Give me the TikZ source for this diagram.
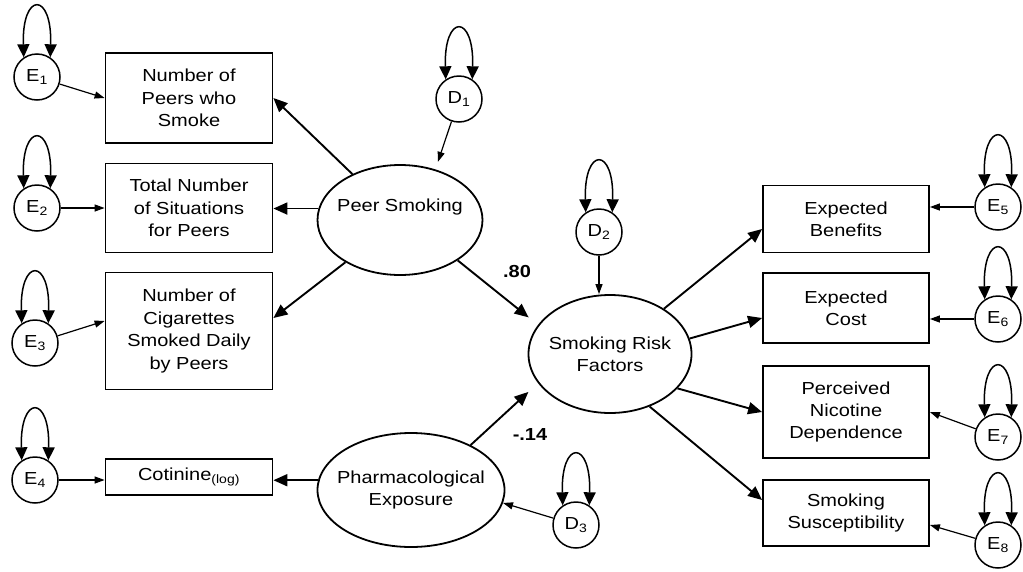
\documentclass[tikz,border=0pt]{standalone}
\usepackage{fontspec}
\setmainfont{Liberation Sans}[FakeStretch=1.15]
\usetikzlibrary{arrows.meta,shapes.geometric,calc}
\begin{document}
\begin{tikzpicture}[x=1pt,y=-1pt,
 font=\fontsize{17.4}{22.4}\selectfont,
 obs/.style={draw,line width=1.8pt,rectangle,minimum width=167pt,align=center,inner sep=0pt},
 lat/.style={draw,line width=1.8pt,ellipse,inner sep=0pt},
 err/.style={draw,line width=1.5pt,circle,minimum size=46pt,inner sep=0pt},
 thk/.style={line width=1.9pt,-{Triangle[length=14pt,width=12pt]}},
 thn/.style={line width=1.2pt,-{Triangle[length=10pt,width=7pt]}},
 var/.style={line width=1.5pt,{Triangle[length=13pt,width=12pt]}-{Triangle[length=13pt,width=12pt]}},
 coef/.style={font=\fontsize{17.4}{20}\selectfont\bfseries}
]
\useasboundingbox (0,0) rectangle (1023,571);
\newcommand{\selfloop}[1]{\draw[var] (#1.124) .. controls +(-2,-66) and +(2,-66) .. (#1.56);}

% left observed
\node[obs,minimum height=90pt]  (B1) at (189,98)  {Number of\\Peers who\\Smoke};
\node[obs,minimum height=89pt]  (B2) at (189,208) {Total Number\\of Situations\\for Peers};
\node[obs,minimum height=117pt] (B3) at (189,331) {Number of\\Cigarettes\\Smoked Daily\\by Peers};
\node[obs,minimum height=36pt]  (B4) at (189,477) {Cotinine\textsubscript{(log)}};
% right observed
\node[obs,minimum width=166pt,minimum height=67pt] (B5) at (846,219) {Expected\\Benefits};
\node[obs,minimum width=166pt,minimum height=70pt] (B6) at (846,308) {Expected\\Cost};
\node[obs,minimum width=166pt,minimum height=92pt] (B7) at (846,412) {Perceived\\Nicotine\\Dependence};
\node[obs,minimum width=166pt,minimum height=66pt] (B8) at (846,513) {Smoking\\Susceptibility};

% latent
\node[lat,minimum width=165pt,minimum height=110pt] (PS) at (400,220) {};
\node (PSt) at (400,207) {Peer Smoking};
\node[lat,minimum width=163pt,minimum height=118pt] (SRF) at (610,354) {};
\node[align=center] (SRFt) at (610,354) {Smoking Risk\\Factors};
\node[lat,minimum width=187pt,minimum height=114pt] (PE) at (411,490) {};
\node[align=center] (PEt) at (411,490) {Pharmacological\\Exposure};

% errors
\node[err] (E1) at (37,77)  {E\textsubscript{1}};
\node[err] (E2) at (37,208) {E\textsubscript{2}};
\node[err] (E3) at (35,343) {E\textsubscript{3}};
\node[err] (E4) at (35,480) {E\textsubscript{4}};
\node[err] (E5) at (998,207) {E\textsubscript{5}};
\node[err] (E6) at (998,319) {E\textsubscript{6}};
\node[err] (E7) at (998,437) {E\textsubscript{7}};
\node[err] (E8) at (998,545) {E\textsubscript{8}};
\node[err] (D1) at (459,99)  {D\textsubscript{1}};
\node[err] (D2) at (599,232) {D\textsubscript{2}};
\node[err] (D3) at (576,525) {D\textsubscript{3}};

\foreach \n in {E1,E2,E3,E4,E5,E6,E7,E8,D1,D2,D3} {\selfloop{\n}}

% error arrows
\draw[thn] (E1) -- (B1.west);
\draw[thn] (E2) -- (E2 -| B2.west);
\draw[thn] (E3) -- ($(B3.west)+(0,-10)$);
\draw[thn] (E4) -- (E4 -| B4.west);
\draw[thn] (E5) -- (E5 -| B5.east);
\draw[thn] (E6) -- (E6 -| B6.east);
\draw[thn] (E7) -- (B7.east);
\draw[thn] (E8) -- ($(B8.east)+(0,12)$);
\draw[thn,shorten >=8pt] (D1) -- (PS.55);
\draw[thn] (D2) -- (D2 |- SRF.north);
\draw[thn] (D3) -- (PE.-8);

% loadings
\draw[thk] (PS) -- (B1.east);
\draw[thk] (PS.172) -- (PS.172 -| B2.east);
\draw[thk] (PS) -- ($(B3.east)+(0,-13)$);
\draw[thk] (PE.174) -- (PE.174 -| B4.east);
\draw[thk] (SRF.40) -- ($(B5.west)+(0,10)$);
\draw[thk] (SRF.11) -- ($(B6.west)+(0,10)$);
\draw[thk] (SRF.-27) -- (B7.west);
\draw[thk] (SRF.-53) -- ($(B8.west)+(0,-13)$);

% structural paths
\draw[thk,shorten >=12pt] (PS.-35) -- (SRF.158);
\draw[thk,shorten >=13pt] (PE.37) -- (SRF.202);
\node[coef] (c1) at (517,272) {.80};
\node[coef] (c2) at (530,435) {-.14};
\end{tikzpicture}
\end{document}
